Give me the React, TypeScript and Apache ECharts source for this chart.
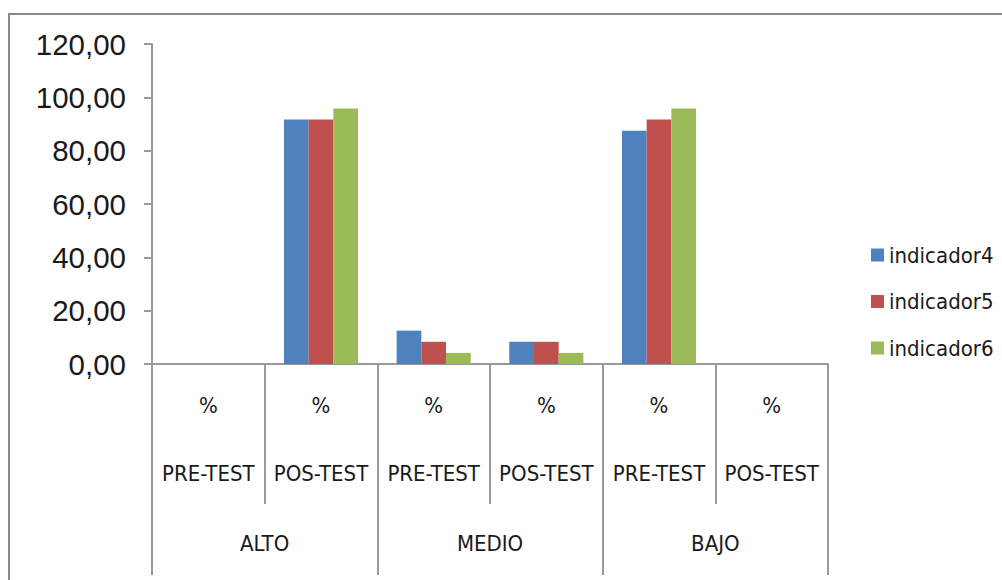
import React, { useEffect, useRef } from "react";
import * as echarts from "echarts";

const subCategories = ["PRE-TEST", "POS-TEST", "PRE-TEST", "POS-TEST", "PRE-TEST", "POS-TEST"];
const groups = ["ALTO", "MEDIO", "BAJO"];
const seriesNames = ["indicador4", "indicador5", "indicador6"];
const indicador4 = [0, 91.67, 12.5, 8.33, 87.5, 0];
const indicador5 = [0, 91.67, 8.33, 8.33, 91.67, 0];
const indicador6 = [0, 95.83, 4.17, 4.17, 95.83, 0];
const colors = ["#4F81BD", "#C0504D", "#9BBB59"];
const yTicks = { min: 0, max: 120, interval: 20 };

export default function App() {
  const ref = useRef<HTMLDivElement>(null);
  useEffect(() => {
    if (!ref.current) return;
    const chart = echarts.init(ref.current, null, { renderer: "svg" });
    const gridLeft = 152;
    const gridRight = 1002 - 828;
    const gridTop = 44;
    const gridBottom = 580 - 364;
    const catFont = "'Liberation Sans Narrow', 'DejaVu Sans Condensed', 'Liberation Sans', sans-serif";
    const lineColor = "#999999";
    const values = [indicador4, indicador5, indicador6];
    chart.setOption({
      animation: false,
      backgroundColor: "#ffffff",
      grid: { left: gridLeft, right: gridRight, top: gridTop, bottom: gridBottom, containLabel: false },
      legend: {
        orient: "vertical",
        left: 866,
        top: 239,
        itemWidth: 13,
        itemHeight: 13,
        itemGap: 24.5,
        icon: "rect",
        data: seriesNames,
        textStyle: { fontSize: 22, fontFamily: catFont, color: "#1a1a1a", padding: [0, 0, 0, 0] },
      },
      xAxis: [
        {
          type: "category",
          data: subCategories,
          position: "bottom",
          axisLine: { show: true, lineStyle: { color: lineColor, width: 2 } },
          axisTick: { show: true, interval: 0, length: 140, lineStyle: { color: lineColor, width: 2 } },
          axisLabel: {
            interval: 0,
            margin: 24,
            lineHeight: 34,
            fontSize: 22,
            fontFamily: catFont,
            color: "#1a1a1a",
            formatter: (v: string) => "%\n\n" + v,
          },
        },
        {
          type: "category",
          data: groups,
          position: "bottom",
          axisLine: { show: false },
          axisTick: { show: true, interval: 0, length: 211, lineStyle: { color: lineColor, width: 2 } },
          axisLabel: {
            interval: 0,
            margin: 164,
            lineHeight: 30,
            fontSize: 22,
            fontFamily: catFont,
            color: "#1a1a1a",
          },
        },
      ],
      yAxis: {
        type: "value",
        min: yTicks.min,
        max: yTicks.max,
        interval: yTicks.interval,
        axisLine: { show: true, lineStyle: { color: lineColor, width: 2 } },
        axisTick: { show: true, length: 8, lineStyle: { color: lineColor, width: 2 } },
        splitLine: { show: false },
        axisLabel: {
          margin: 26,
          fontSize: 29.5,
          fontFamily: "'Liberation Sans', Arial, sans-serif",
          color: "#1a1a1a",
          formatter: (v: number) => v.toFixed(2).replace(".", ","),
        },
      },
      series: seriesNames.map((name, i) => ({
        name,
        type: "bar",
        xAxisIndex: 0,
        data: values[i],
        barWidth: 24.7,
        barGap: "0%",
        itemStyle: { color: colors[i] },
      })),
      graphic: [
        {
          type: "rect",
          shape: { x: 9, y: 14, width: 1100, height: 700 },
          style: { fill: "none", stroke: "#8a8a8a", lineWidth: 2 },
          silent: true,
        },
      ],
    });
    return () => chart.dispose();
  }, []);
  return (
    <div
      ref={ref}
      style={{ position: "fixed", left: 0, top: 0, width: 1002, height: 580 }}
    />
  );
}
